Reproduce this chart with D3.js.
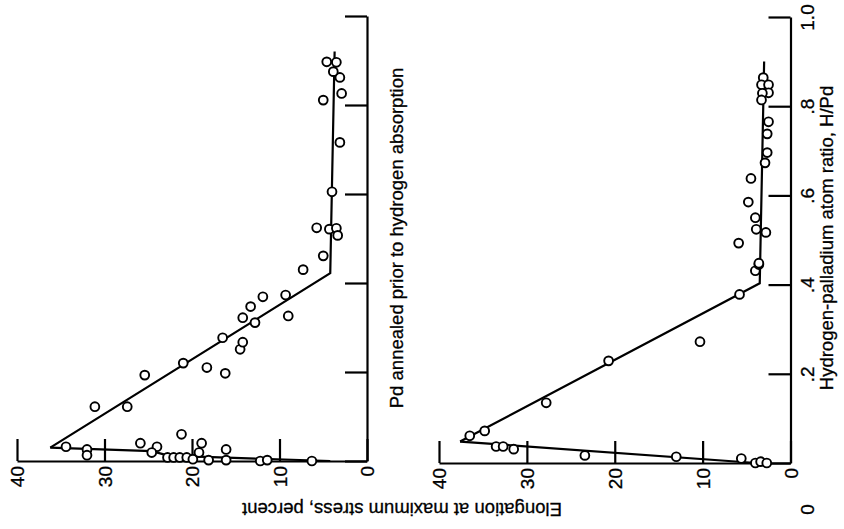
<!DOCTYPE html>
<html>
<head>
<meta charset="utf-8">
<script src="https://cdn.jsdelivr.net/npm/d3@7"></script>
<style>
  html, body { margin: 0; padding: 0; background: #fff; }
  svg { display: block; }
  text { font-family: "Liberation Sans", Arial, sans-serif; fill: #000; stroke: #000; stroke-width: 0.3px; }
</style>
</head>
<body>
<script>
// Axis ticks
const elongTicks = [40, 30, 20, 10, 0];
const elongTickLabels = ["40", "30", "20", "10", "0"];
const ratioTicks = [0, 0.2, 0.4, 0.6, 0.8, 1.0];
const ratioTickLabels = ["0", ".2", ".4", ".6", ".8", "1.0"];

// Pd annealed prior to hydrogen absorption: measured points
const annealedElong = [34.4, 32.0, 32.0, 25.9, 24.0, 24.6, 22.8, 22.1, 21.2, 21.4, 20.6, 19.9, 18.9, 19.2, 18.1, 16.1, 16.1, 12.2, 11.4, 6.3,
  31.1, 27.4, 25.4, 21.0, 18.3, 16.2, 16.5, 14.5, 14.2, 14.2, 12.8, 13.3, 11.9, 9.3, 9.0, 7.3, 5.0,
  5.75, 4.3, 3.5, 3.35, 4.0, 3.1, 5.0, 2.9, 3.1, 3.85, 4.6, 3.5];
const annealedRatio = [0.032, 0.026, 0.013, 0.040, 0.032, 0.019, 0.008, 0.008, 0.060, 0.008, 0.008, 0.004, 0.040, 0.019, 0.002, 0.026, 0.002, 0.0, 0.002, 0.0,
  0.122, 0.122, 0.193, 0.220, 0.210, 0.197, 0.277, 0.251, 0.267, 0.322, 0.311, 0.347, 0.369, 0.373, 0.326, 0.430, 0.461,
  0.524, 0.521, 0.523, 0.507, 0.605, 0.716, 0.811, 0.826, 0.862, 0.875, 0.897, 0.896];

// Annealed: fitted curves (vertices)
const annealedLowFitElong = [36.2, 24.6, 22.7, 4.2];
const annealedLowFitRatio = [0.030, 0.022, 0.012, 0.0];
const annealedHighFitElong = [36.2, 4.2, 3.7];
const annealedHighFitRatio = [0.030, 0.422, 0.92];

// Second specimen series: measured points
const secondElong = [36.5, 34.8, 27.8, 33.5, 32.7, 31.5, 23.4, 13.0, 5.6, 4.0, 3.4, 2.7,
  20.7, 10.3, 5.8, 4.0, 3.6,
  3.1, 3.3, 2.5, 2.5, 3.2, 3.3, 2.5, 2.65, 2.65, 2.9, 4.5, 4.8, 4.0, 3.9, 2.8, 5.9, 3.6];
const secondRatio = [0.061, 0.072, 0.135, 0.037, 0.037, 0.031, 0.017, 0.014, 0.010, 0.0, 0.003, 0.0,
  0.229, 0.272, 0.378, 0.431, 0.445,
  0.864, 0.848, 0.848, 0.830, 0.829, 0.814, 0.765, 0.738, 0.696, 0.673, 0.638, 0.585, 0.550, 0.524, 0.517, 0.493, 0.448];

// Second series: fitted curves (vertices)
const secondLowFitElong = [37.6, 3.9];
const secondLowFitRatio = [0.048, 0.0];
const secondHighFitElong = [37.6, 3.5, 3.0];
const secondHighFitRatio = [0.048, 0.403, 0.90];

const W = 844, H = 529;
const svg = d3.select("body").append("svg").attr("width", W).attr("height", H);

const zip = (a, b) => a.map((v, i) => [v, b[i]]);

function drawPanel(opt) {
  const x = d3.scaleLinear().domain([40, 0]).range(opt.xRange);
  const y = d3.scaleLinear().domain([0, 1]).range(opt.yRange);
  const g = svg.append("g");

  // elongation axis (bottom), ticks pointing into the plot, labels turned
  const ax = g.append("g")
    .attr("transform", `translate(0,${y(0)})`)
    .call(d3.axisBottom(x).tickValues(elongTicks)
      .tickFormat((d, i) => elongTickLabels[i])
      .tickSizeInner(-22).tickSizeOuter(0));
  ax.selectAll("text")
    .attr("x", 0).attr("y", 0).attr("dy", "0.36em")
    .attr("transform", "translate(0,5) rotate(-90)")
    .attr("text-anchor", "end")
    .style("font-size", "19px");

  // H/Pd axis (right side)
  const ay = g.append("g")
    .attr("transform", `translate(${x(0)},0)`)
    .call(d3.axisRight(y).tickValues(ratioTicks)
      .tickFormat((d, i) => opt.ratioLabels ? ratioTickLabels[i] : "")
      .tickSizeInner(-22).tickSizeOuter(0));
  ay.selectAll("text")
    .attr("x", 0).attr("y", 0).attr("dy", 0)
    .attr("text-anchor", "middle")
    .attr("transform", d => d === 0 ? "translate(23,46) rotate(-90)" : "translate(23,0) rotate(-90)")
    .style("font-size", "19px");

  g.selectAll(".domain, .tick line")
    .attr("stroke", "#000").attr("stroke-width", 2.2);

  const line = d3.line().x(d => x(d[0])).y(d => y(d[1]));
  [opt.low, opt.high].forEach(pts => {
    g.append("path").attr("d", line(pts))
      .attr("fill", "none").attr("stroke", "#000")
      .attr("stroke-width", 2.2).attr("stroke-linejoin", "miter");
  });

  g.append("g").selectAll("circle").data(opt.points).join("circle")
    .attr("cx", d => x(d[0])).attr("cy", d => y(d[1]))
    .attr("r", 4.4)
    .attr("fill", "#fff").attr("stroke", "#000").attr("stroke-width", 1.9);
}

drawPanel({
  xRange: [17, 367], yRange: [461, 16], ratioLabels: false,
  points: zip(annealedElong, annealedRatio),
  low: zip(annealedLowFitElong, annealedLowFitRatio),
  high: zip(annealedHighFitElong, annealedHighFitRatio)
});

drawPanel({
  xRange: [439, 790.5], yRange: [463, 17], ratioLabels: true,
  points: zip(secondElong, secondRatio),
  low: zip(secondLowFitElong, secondLowFitRatio),
  high: zip(secondHighFitElong, secondHighFitRatio)
});

// Panel caption
svg.append("text")
  .attr("transform", "translate(403,238) rotate(-90)")
  .attr("text-anchor", "middle")
  .style("font-size", "18.5px")
  .text("Pd annealed prior to hydrogen absorption");

// H/Pd axis title
svg.append("text")
  .attr("transform", "translate(833,238) rotate(-90)")
  .attr("text-anchor", "middle")
  .style("font-size", "18.5px")
  .text("Hydrogen-palladium atom ratio, H/Pd");

// Elongation axis title
svg.append("text")
  .attr("transform", "translate(402,503) rotate(180)")
  .attr("text-anchor", "middle")
  .style("font-size", "18.5px")
  .text("Elongation at maximum stress, percent");
</script>
</body>
</html>
